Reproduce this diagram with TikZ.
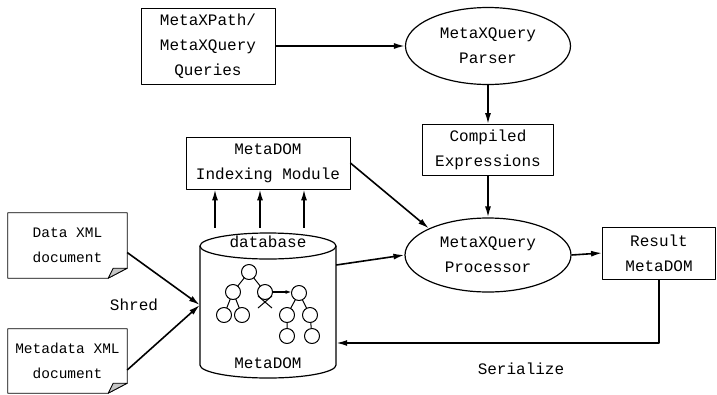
\documentclass[tikz,border=0pt]{standalone}
\usepackage{fontspec}
\setmainfont{Liberation Mono}
\usetikzlibrary{shapes.geometric, arrows.meta, calc}

\tikzset{
  box/.style={draw, rectangle, line width=0.8pt, align=center, inner sep=0pt,
    font=\fontsize{16}{25}\selectfont},
  oval/.style={draw, ellipse, line width=1.2pt, align=center, inner sep=0pt,
    font=\fontsize{16}{25}\selectfont},
  doc/.style={rectangle, align=center, inner sep=0pt, minimum width=119,
    font=\fontsize{14.5}{25}\selectfont},
  lbl/.style={font=\fontsize{16}{20}\selectfont},
  arr/.style={-{Latex[length=11pt,width=6pt]}, line width=1.6pt},
}

\begin{document}
\begin{tikzpicture}[x=1pt, y=-1pt, line join=round]
\useasboundingbox (0,0) rectangle (717,394);

% query side
\node[box, minimum width=134, minimum height=76] (qry) at (208,46)
  {MetaXPath/\\MetaXQuery\\Queries};
\node[oval, minimum width=165, minimum height=77] (parser) at (488,46)
  {MetaXQuery\\Parser};
\node[box, minimum width=131, minimum height=51] (comp) at (488,150)
  {Compiled\\Expressions};
\node[oval, minimum width=166, minimum height=74] (proc) at (488,255)
  {MetaXQuery\\Processor};
\node[box, minimum width=113, minimum height=52] (res) at (659,253)
  {Result\\MetaDOM};
\node[box, minimum width=164, minimum height=52] (idx) at (268,163)
  {MetaDOM\\Indexing Module};

% input documents
\node[doc, minimum height=65] (datadoc) at (67.5,245.5) {Data XML\\document};
\node[doc, minimum height=64] (metadoc) at (67.5,361) {Metadata XML\\document};
\foreach \d in {datadoc, metadoc} {
  \draw[line width=0.8pt] (\d.north west) -- (\d.north east)
    -- ([yshift=10pt]\d.south east) -- ([xshift=-19pt]\d.south east)
    -- (\d.south west) -- cycle;
  \filldraw[fill=gray!45, line width=0.8pt] ([yshift=10pt]\d.south east)
    -- ([xshift=-14pt,yshift=10pt]\d.south east)
    -- ([xshift=-19pt]\d.south east) -- cycle;
}

% database cylinder
\node[minimum width=136, minimum height=120, inner sep=0pt] (db) at (268,305) {};
\draw[line width=1.2pt] (268,246) ellipse [x radius=68, y radius=13];
\draw[line width=1.2pt] (200,246) -- (200,365)
  arc[start angle=180, end angle=0, x radius=68, y radius=13] -- (336,246);
\node[lbl] (dbname) at (268,242) {database};
\node[lbl] (dbtitle) at (268,363) {MetaDOM};

% trees
\draw[line width=1pt] (249,272) -- (233,292) (249,272) -- (265,292)
  (233,292) -- (224,315) (233,292) -- (242,315)
  (258,296) -- (272,308) (272,296) -- (258,308)
  (299,293) -- (287,315) (299,293) -- (310,315)
  (287,315) -- (287,336) (310,315) -- (312,336);
\foreach \p in {(249,272),(233,292),(265,292),(224,315),(242,315),
  (299,293),(287,315),(310,315),(287,336),(312,336)}
  \filldraw[fill=white, line width=1pt] \p circle (7.5);
\draw[-{Latex[length=6pt,width=4pt]}, line width=1.2pt] (272.5,292) -- (291.5,292);

% connectors
\draw[arr] (qry.east) -- (parser.west);
\draw[arr] (parser.south) -- (comp.north);
\draw[arr] (comp.south) -- (proc.north);
\draw[arr] (idx.east) -- (proc.north west);
\draw[arr] ([yshift=40pt]db.east) -- (proc.west);
\draw[arr] (proc.east) -- (res.west);
\draw[arr] (res.south) |- ([yshift=-38pt]db.east);
\foreach \dx in {-53,-8,36}
  \draw[arr] ([xshift=\dx pt,yshift=17pt]db.north) -- ([xshift=\dx pt]idx.south);
\draw[arr] ([yshift=-7pt]datadoc.east) -- (db.west);
\draw[arr] ([yshift=-9pt]metadoc.east) -- (db.west);

\node[lbl] (shred) at (134,305) {Shred};
\node[lbl] (serial) at (521,369) {Serialize};
\end{tikzpicture}
\end{document}
